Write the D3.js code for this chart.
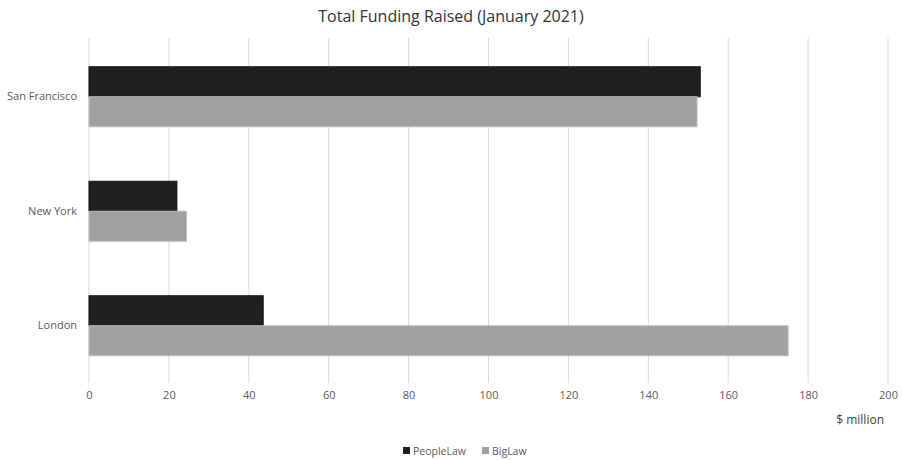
<!DOCTYPE html>
<html><head><meta charset="utf-8">
<script src="https://cdn.jsdelivr.net/npm/d3@7"></script>
<style>body{margin:0;background:#fff;} text{font-family:"Open Sans",sans-serif;}</style>
</head><body>
<svg id="c" width="902" height="460"></svg>
<script>
const categories = ["San Francisco", "New York", "London"];
const seriesNames = ["PeopleLaw", "BigLaw"];
const peopleLaw = [153, 22, 43.6];
const bigLaw = [152.2, 24.4, 175];
const xTicks = [0,20,40,60,80,100,120,140,160,180,200];
const colors = {"PeopleLaw":"#202020","BigLaw":"#a0a0a0"};
const strokes = {"PeopleLaw":"#111","BigLaw":"#bdbdbd"};

const svg = d3.select("#c");
const x = d3.scaleLinear().domain([0,200]).range([89,888]);
const y = d3.scaleBand().domain(categories).range([39.5,383]).paddingInner(0.476).paddingOuter(0.238);
const ys = d3.scaleBand().domain(seriesNames).range([0,y.bandwidth()]);

svg.append("text").attr("x",451).attr("y",22).attr("text-anchor","middle")
  .attr("font-size",16).attr("fill","#333").text("Total Funding Raised (January 2021)");

svg.append("g").selectAll("line").data(xTicks).join("line")
  .attr("x1",d=>x(d)).attr("x2",d=>x(d)).attr("y1",38).attr("y2",383)
  .attr("stroke","#d9d9d9").attr("stroke-width",1);

const data = categories.map((c,i)=>({c, vals:[{s:"PeopleLaw",v:peopleLaw[i]},{s:"BigLaw",v:bigLaw[i]}]}));
const g = svg.append("g").selectAll("g").data(data).join("g").attr("transform",d=>`translate(0,${y(d.c)})`);
g.selectAll("rect").data(d=>d.vals).join("rect")
  .attr("x",x(0)).attr("y",d=>ys(d.s)).attr("width",d=>x(d.v)-x(0)).attr("height",ys.bandwidth())
  .attr("fill",d=>colors[d.s]).attr("stroke",d=>strokes[d.s]).attr("stroke-width",1);

const xa = d3.axisBottom(x).tickValues(xTicks).tickSize(0).tickPadding(0);
svg.append("g").attr("transform","translate(0,391)").call(xa)
  .call(g=>g.select(".domain").remove())
  .selectAll("text").attr("font-size",11).attr("fill","#595959").attr("font-family","Open Sans, sans-serif");

const ya = d3.axisLeft(y).tickSize(0).tickPadding(0);
svg.append("g").attr("transform","translate(77,0)").call(ya)
  .call(g=>g.select(".domain").remove())
  .selectAll("text").attr("font-size",11).attr("fill","#595959").attr("font-family","Open Sans, sans-serif");

svg.append("text").attr("x",884).attr("y",424).attr("text-anchor","end")
  .attr("font-size",12).attr("fill","#404040").text("$ million");

const leg = svg.append("g");
const legX = [403, 482];
seriesNames.forEach((s,i)=>{
  leg.append("rect").attr("x",legX[i]).attr("y",447).attr("width",7).attr("height",7).attr("fill",colors[s]);
  leg.append("text").attr("x",legX[i]+10).attr("y",455).attr("font-size",10.5).attr("fill","#595959").text(s);
});
</script>
</body></html>
